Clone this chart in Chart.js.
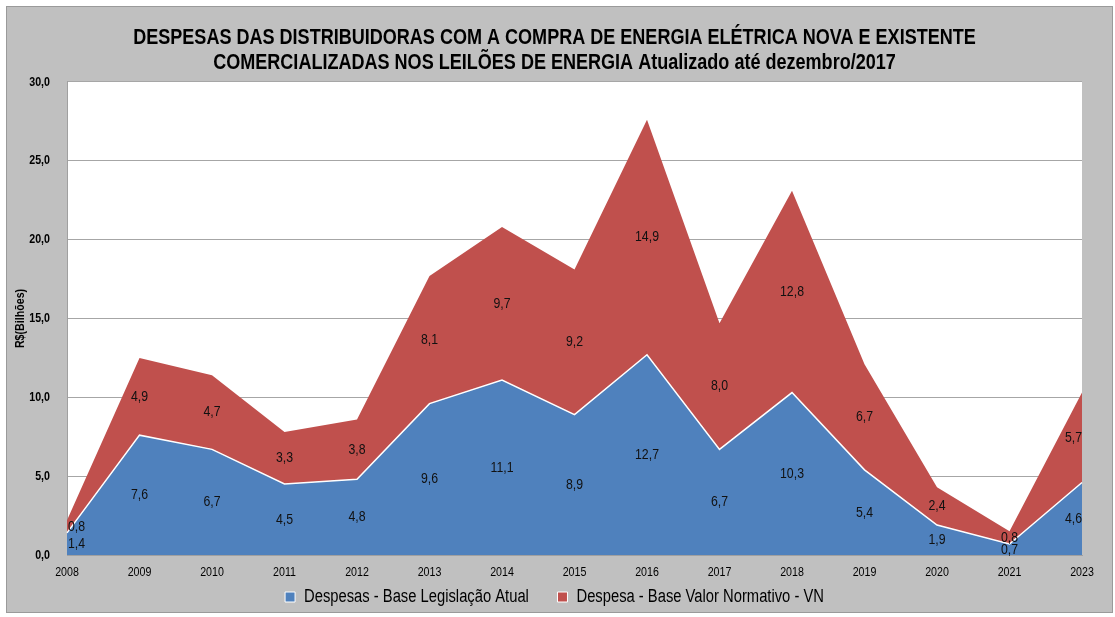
<!DOCTYPE html>
<html>
<head>
<meta charset="utf-8">
<script src="https://cdn.jsdelivr.net/npm/chart.js@4/dist/chart.umd.min.js"></script>
<style>
  html, body { margin: 0; padding: 0; background: #ffffff; }
  #wrap {
    position: absolute; left: 6px; top: 6px;
    width: 1105px; height: 605px; overflow: hidden;
    background: #c0c0c0; border: 1px solid #9a9a9a;
  }
</style>
</head>
<body>
<div id="wrap"><canvas id="chart" width="1105" height="612"></canvas></div>
<script>
const anos = ["2008", "2009", "2010", "2011", "2012", "2013", "2014", "2015", "2016", "2017", "2018", "2019", "2020", "2021", "2023"];
const despesasAtual = [1.4, 7.6, 6.7, 4.5, 4.8, 9.6, 11.1, 8.9, 12.7, 6.7, 10.3, 5.4, 1.9, 0.7, 4.6];
const despesasVN = [0.8, 4.9, 4.7, 3.3, 3.8, 8.1, 9.7, 9.2, 14.9, 8.0, 12.8, 6.7, 2.4, 0.8, 5.7];

const FONTE = "'Liberation Sans', Arial, sans-serif";
const ESTREITO = 0.82; // no Arial Narrow here, so squeeze Liberation Sans

const canvas = document.getElementById("chart");
const c2d = canvas.getContext("2d");
const fillOrig = c2d.fillText.bind(c2d);
const measureOrig = c2d.measureText.bind(c2d);
c2d.fillText = function (t, x, y) {
  this.save();
  this.translate(x, y);
  this.scale(ESTREITO, 1);
  fillOrig(t, 0, 0);
  this.restore();
};
c2d.measureText = function (t) {
  const m = measureOrig(t);
  return {
    width: m.width * ESTREITO,
    actualBoundingBoxAscent: m.actualBoundingBoxAscent,
    actualBoundingBoxDescent: m.actualBoundingBoxDescent,
    actualBoundingBoxLeft: m.actualBoundingBoxLeft * ESTREITO,
    actualBoundingBoxRight: m.actualBoundingBoxRight * ESTREITO
  };
};

// white plot area
const fundo = {
  id: "fundo",
  beforeDraw(chart) {
    const a = chart.chartArea;
    chart.ctx.save();
    chart.ctx.fillStyle = "#ffffff";
    chart.ctx.fillRect(a.left, a.top, a.right - a.left, a.bottom - a.top);
    chart.ctx.restore();
  }
};

// labels in the middle of each stacked band
const rotulos = {
  id: "rotulos",
  afterDatasetsDraw(chart) {
    const ctx = chart.ctx;
    const y = chart.scales.y;
    const base = new Array(anos.length).fill(0);
    ctx.save();
    ctx.font = "15px " + FONTE;
    ctx.fillStyle = "#111111";
    ctx.textBaseline = "middle";
    chart.data.datasets.forEach((ds, di) => {
      const meta = chart.getDatasetMeta(di);
      ds.data.forEach((v, i) => {
        const px = meta.data[i].x;
        const py = y.getPixelForValue(base[i] + v / 2);
        ctx.textAlign = i === 0 ? "left" : (i === anos.length - 1 ? "right" : "center");
        ctx.fillText(v.toFixed(1).replace(".", ","), px + (i === 0 ? 1 : 0), py);
        base[i] += v;
      });
    });
    ctx.restore();
  }
};

new Chart(canvas, {
  type: "line",
  data: {
    labels: anos,
    datasets: [
      {
        label: "Despesas - Base Legislação Atual",
        data: despesasAtual,
        backgroundColor: "#4f81bd",
        borderColor: "#ffffff",
        borderWidth: 1.5,
        fill: "origin",
        pointRadius: 0,
        tension: 0
      },
      {
        label: "Despesa - Base Valor Normativo - VN",
        data: despesasVN,
        backgroundColor: "#c0504d",
        borderColor: "#c0504d",
        borderWidth: 0,
        fill: "-1",
        pointRadius: 0,
        tension: 0
      }
    ]
  },
  options: {
    responsive: false,
    animation: false,
    layout: { padding: { left: 20, right: 30, top: 0, bottom: 3 } },
    plugins: {
      title: {
        display: true,
        text: ["DESPESAS DAS DISTRIBUIDORAS COM A COMPRA DE ENERGIA ELÉTRICA NOVA E EXISTENTE",
               "COMERCIALIZADAS NOS LEILÕES DE ENERGIA Atualizado até dezembro/2017"],
        color: "#000000",
        font: { family: FONTE, size: 22, weight: "bold", lineHeight: 1.136 },
        padding: { top: 18, bottom: 7 }
      },
      legend: {
        position: "bottom",
        labels: {
          color: "#000000",
          font: { family: FONTE, size: 18 },
          boxWidth: 10,
          boxHeight: 10,
          padding: 4,
          generateLabels(chart) {
            // trailing spaces open the gap between the two items
            return chart.data.datasets.map((ds, i) => ({
              text: i === 0 ? ds.label + "      " : ds.label,
              fillStyle: ds.backgroundColor,
              strokeStyle: "#ffffff",
              lineWidth: 1,
              datasetIndex: i
            }));
          }
        }
      },
      tooltip: { enabled: false }
    },
    scales: {
      x: {
        offset: false,
        grid: { display: false, drawTicks: false },
        border: { color: "#a0a0a0" },
        ticks: { color: "#000000", font: { family: FONTE, size: 13 }, padding: 10, maxRotation: 0, autoSkip: false },
        afterFit(s) { s.height = 29; }
      },
      y: {
        stacked: true,
        min: 0,
        max: 30,
        grid: { color: "#a6a6a6", drawTicks: false },
        border: { color: "#a0a0a0" },
        ticks: {
          stepSize: 5,
          color: "#000000",
          padding: 17,
          font: { family: FONTE, size: 13, weight: "bold" },
          callback: v => v.toFixed(1).replace(".", ",")
        },
        title: {
          display: true,
          text: "R$(Bilhões)",
          color: "#000000",
          font: { family: FONTE, size: 13, weight: "bold" },
          padding: { top: -14, bottom: 0 }
        },
        afterFit(s) { s.width = 40; }
      }
    }
  },
  plugins: [fundo, rotulos]
});
</script>
</body>
</html>
